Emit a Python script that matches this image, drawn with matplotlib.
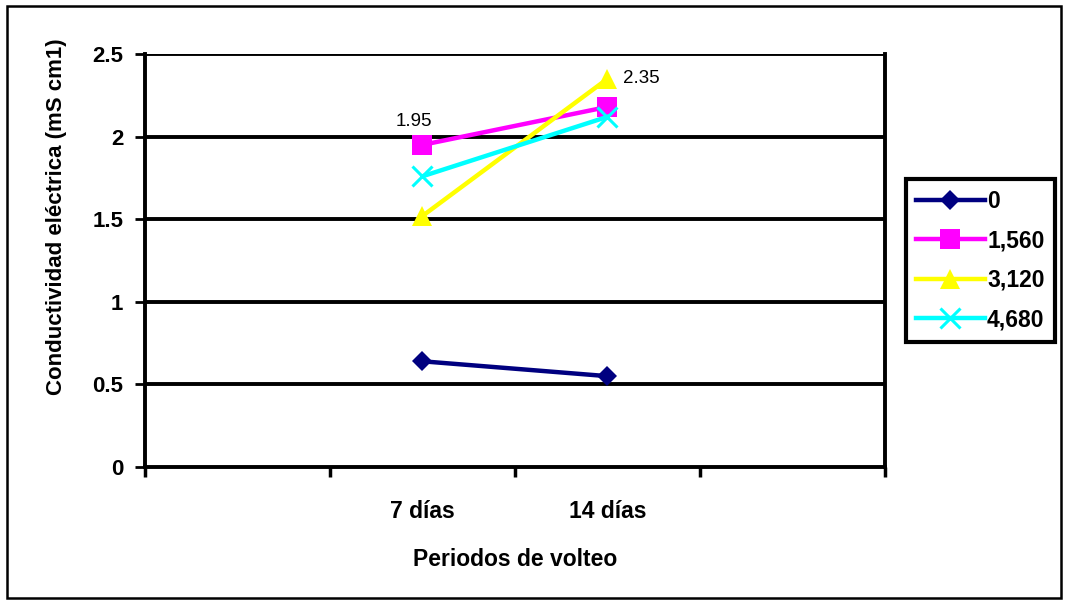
import numpy as np
import matplotlib

matplotlib.use('Agg')
import matplotlib.pyplot as plt
from matplotlib.patches import Rectangle

plt.rcParams['font.family'] = ['Liberation Sans', 'DejaVu Sans']

categories = ['', '7 días', '14 días', '']
series_names = ['0', '1,560', '3,120', '4,680']
vals_0 = [0.64, 0.55]
vals_1560 = [1.95, 2.18]
vals_3120 = [1.52, 2.35]
vals_4680 = [1.76, 2.12]
yticks = [0, 0.5, 1, 1.5, 2, 2.5]
ytick_labels = ['0', '0.5', '1', '1.5', '2', '2.5']

fig = plt.figure(figsize=(10.67, 6.03), dpi=100)
ax = fig.add_axes([0.1359, 0.2255, 0.6935, 0.6849])

# frame around the whole chart
fig.patches.append(Rectangle((0.007, 0.009), 0.987, 0.981, transform=fig.transFigure,
                             fill=False, edgecolor='black', linewidth=1.8))

x = np.arange(len(categories))
xd = x[1:3]

styles = [
    (vals_0, '#000080', 'D', 10.5),
    (vals_1560, '#FF00FF', 's', 14),
    (vals_3120, '#FFFF00', '^', 15),
    (vals_4680, '#00FFFF', 'x', 14),
]
for (vals, col, mk, ms), name in zip(styles, series_names):
    ax.plot(xd, vals, color=col, marker=mk, markersize=ms, linewidth=3.2,
            markeredgewidth=2.2 if mk == 'x' else 0, label=name, zorder=3)

ax.annotate(f'{vals_1560[0]:.2f}', (xd[0], vals_1560[0]), xytext=(-19, 11),
            textcoords='offset points', fontsize=13.5, ha='left', va='bottom')
ax.annotate(f'{vals_3120[1]:.2f}', (xd[1], vals_3120[1]), xytext=(11, 0),
            textcoords='offset points', fontsize=13.5, ha='left', va='center')

ax.set_ylim(0, 2.5)
ax.set_xlim(-0.5, 3.5)
ax.set_yticks(yticks)
ax.set_yticklabels(ytick_labels, fontsize=16, fontweight='bold')
for yv in yticks[1:]:
    ax.axhline(yv, color='black', linewidth=2.8, zorder=1)

ax.set_xticks(np.arange(-0.5, 3.6, 1))
ax.set_xticklabels([])
ax.set_xticks(x, minor=True)
ax.set_xticklabels(categories, minor=True, fontsize=16.5, fontweight='bold')
ax.tick_params(axis='x', which='minor', length=0, pad=24)
ax.tick_params(axis='x', which='major', length=7.5, width=2.5, direction='out')
ax.tick_params(axis='y', length=7.5, width=2, direction='out', pad=8)

for side in ['left', 'right', 'bottom']:
    ax.spines[side].set_linewidth(2.8)
ax.spines['top'].set_visible(False)

ax.set_xlabel('Periodos de volteo', fontsize=16.5, fontweight='bold')
ax.xaxis.set_label_coords(0.5, -0.195)
ax.set_ylabel('Conductividad eléctrica (mS cm1)', fontsize=16, fontweight='bold')
ax.yaxis.set_label_coords(-0.106, 0.605)

leg = ax.legend(loc='center left', bbox_to_anchor=(1.028, 0.5), frameon=True, fancybox=False,
                framealpha=1, handlelength=3.0, borderpad=0.45, labelspacing=0.72,
                handletextpad=0.1, borderaxespad=0, prop={'weight': 'bold', 'size': 16.5})
leg.get_frame().set_edgecolor('black')
leg.get_frame().set_linewidth(3)

fig.savefig('out.png', dpi=100)
